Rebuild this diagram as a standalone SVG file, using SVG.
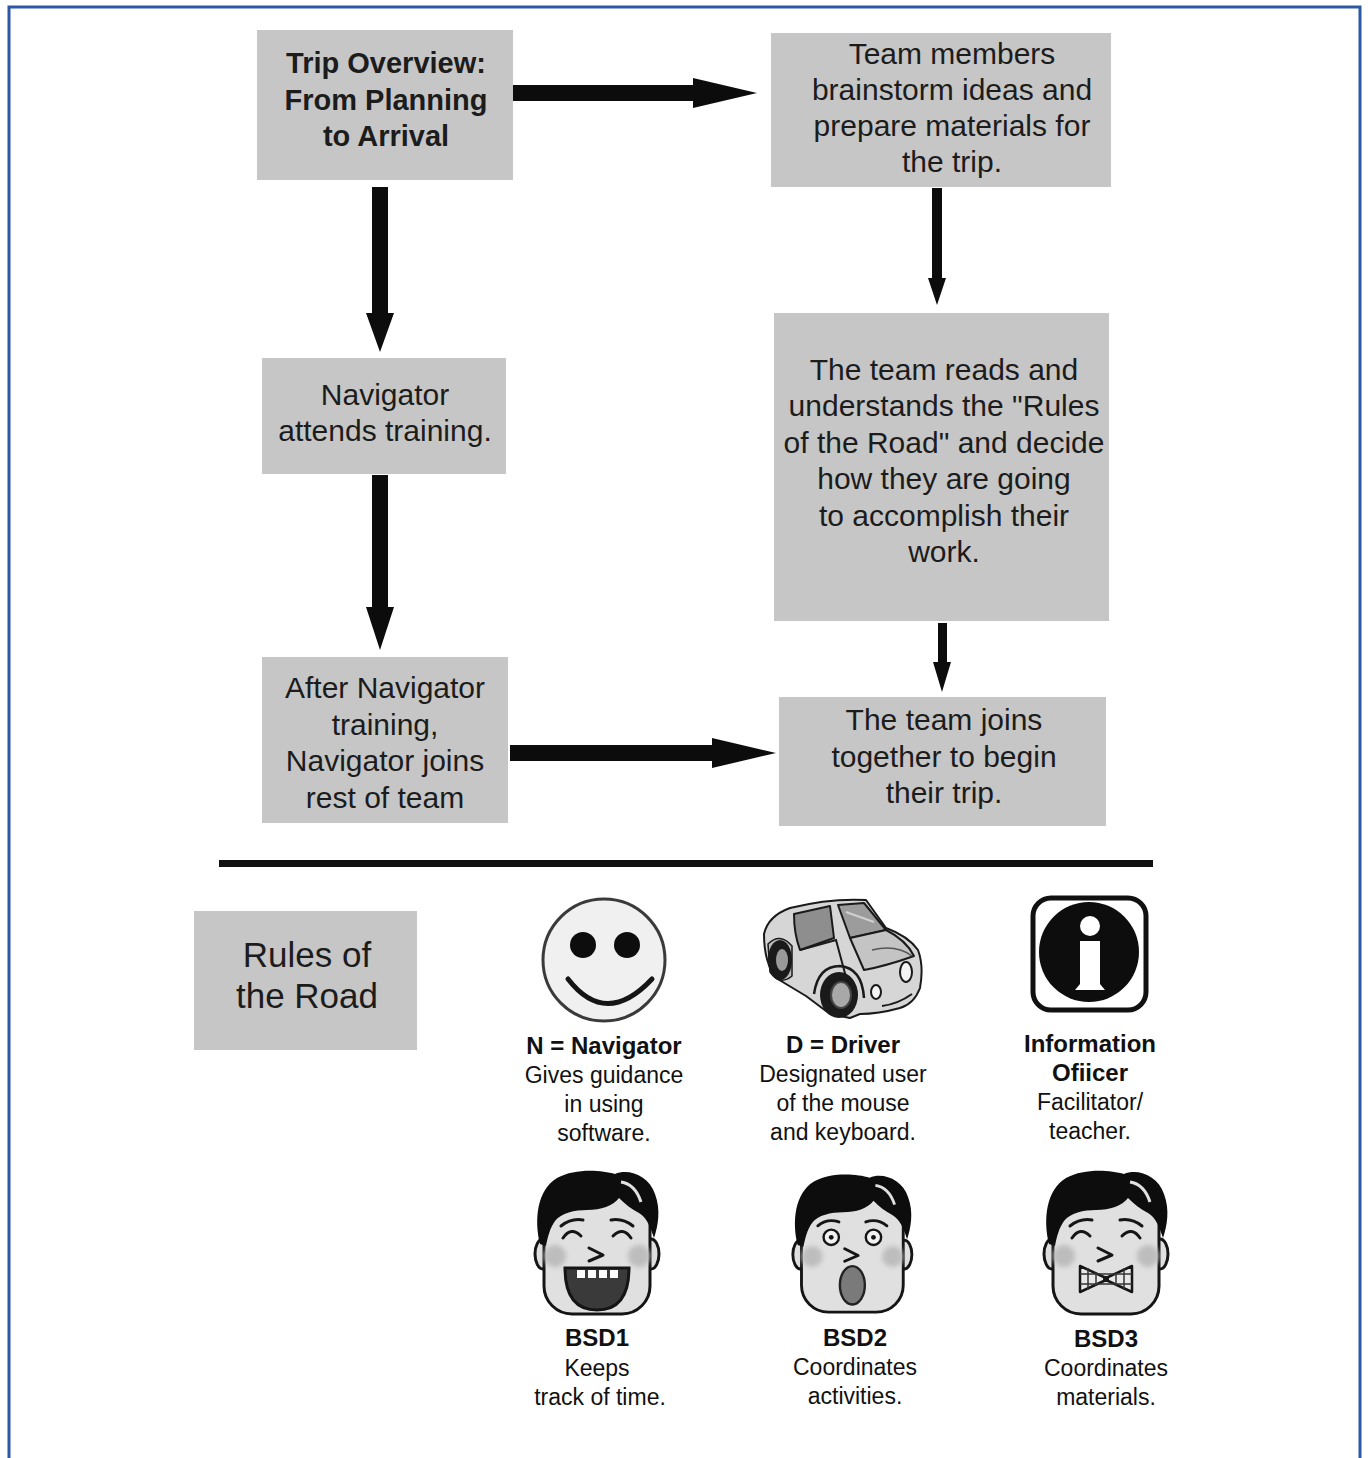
<svg xmlns="http://www.w3.org/2000/svg" xmlns:xlink="http://www.w3.org/1999/xlink" width="1368" height="1458" viewBox="0 0 1368 1458">
  <style>
    .box { fill: #c6c6c6; }
    .t { font-family: "Liberation Sans", Arial, Helvetica, sans-serif; fill: #1c1c1c; text-anchor: middle; }
    .box-t { font-size: 30px; }
    .box-tb { font-size: 29px; font-weight: bold; }
    .rules-t { font-size: 35px; }
    .lbl { font-size: 23px; fill: #111; }
    .lblb { font-size: 24px; font-weight: bold; fill: #111; }
    .arrow { fill: #0c0c0c; }
    .ln { fill: none; stroke: #151515; stroke-width: 3; stroke-linecap: round; stroke-linejoin: round; }
    .car { stroke: #1a1a1a; stroke-width: 2; stroke-linejoin: round; }
  </style>
  <defs>
    <filter id="soft" x="-50%" y="-50%" width="200%" height="200%">
      <feGaussianBlur stdDeviation="2.5"/>
    </filter>
    <!-- shared head used by the three BSD faces -->
    <g id="faceBase">
      <ellipse cx="12" cy="86" rx="8" ry="15" fill="#e0e0e0" stroke="#151515" stroke-width="3"/>
      <ellipse cx="120" cy="86" rx="8" ry="15" fill="#e0e0e0" stroke="#151515" stroke-width="3"/>
      <rect x="13" y="22" width="106" height="124" rx="28" fill="#e0e0e0" stroke="#151515" stroke-width="3"/>
      <path d="M9,76 C3,52 6,22 26,10 C44,0 70,2 84,6 C98,0 118,8 124,26 C130,42 127,58 123,70 C119,58 116,50 108,45 C100,41 94,36 88,30 C82,38 70,42 56,42 C44,42 30,45 24,53 C19,60 17,68 15,78 Z" fill="#0d0d0d"/>
      <path d="M90,14 Q104,16 110,34" fill="none" stroke="#e0e0e0" stroke-width="3"/>
      <circle cx="24" cy="88" r="11" fill="#bdbdbd" filter="url(#soft)"/>
      <circle cx="108" cy="88" r="11" fill="#bdbdbd" filter="url(#soft)"/>
      <path class="ln" d="M58,80 L72,87 L58,93"/>
    </g>
  </defs>

  <rect width="1368" height="1458" fill="#ffffff"/>
  <!-- page frame -->
  <path d="M9,1458 V7 H1360 V1458" fill="none" stroke="#2d58a6" stroke-width="3"/>

  <!-- flow connectors -->
  <g id="connectors">
    <polygon class="arrow" points="513,85 693,85 693,78 757,93 693,108 693,101 513,101"/>
    <polygon class="arrow" points="372,187 388,187 388,313 394,313 380,352 366,313 372,313"/>
    <polygon class="arrow" points="372,475 388,475 388,607 394,607 380,650 366,607 372,607"/>
    <polygon class="arrow" points="510,745 712,745 712,738 776,753 712,768 712,761 510,761"/>
    <polygon class="arrow" points="932,188 942,188 942,278 946,278 937,305 928,278 932,278"/>
    <polygon class="arrow" points="938,623 947,623 947,662 951,662 942,692 933,662 938,662"/>
  </g>

  <g id="trip-overview">
    <rect class="box" x="257" y="30" width="256" height="150"/>
    <text class="t box-tb" x="386" y="73">Trip Overview:</text>
    <text class="t box-tb" x="386" y="110">From Planning</text>
    <text class="t box-tb" x="386" y="146">to Arrival</text>
  </g>

  <g id="brainstorm">
    <rect class="box" x="771" y="33" width="340" height="154"/>
    <text class="t box-t" x="952" y="64">Team members</text>
    <text class="t box-t" x="952" y="100">brainstorm ideas and</text>
    <text class="t box-t" x="952" y="136">prepare materials for</text>
    <text class="t box-t" x="952" y="172">the trip.</text>
  </g>

  <g id="navigator-training">
    <rect class="box" x="262" y="358" width="244" height="116"/>
    <text class="t box-t" x="385" y="405">Navigator</text>
    <text class="t box-t" x="385" y="441">attends training.</text>
  </g>

  <g id="rules-reading">
    <rect class="box" x="774" y="313" width="335" height="308"/>
    <text class="t box-t" x="944" y="380">The team reads and</text>
    <text class="t box-t" x="944" y="416">understands the "Rules</text>
    <text class="t box-t" x="944" y="453">of the Road" and decide</text>
    <text class="t box-t" x="944" y="489">how they are going</text>
    <text class="t box-t" x="944" y="526">to accomplish their</text>
    <text class="t box-t" x="944" y="562">work.</text>
  </g>

  <g id="navigator-joins">
    <rect class="box" x="262" y="657" width="246" height="166"/>
    <text class="t box-t" x="385" y="698">After Navigator</text>
    <text class="t box-t" x="385" y="735">training,</text>
    <text class="t box-t" x="385" y="771">Navigator joins</text>
    <text class="t box-t" x="385" y="808">rest of team</text>
  </g>

  <g id="trip-begins">
    <rect class="box" x="779" y="697" width="327" height="129"/>
    <text class="t box-t" x="944" y="730">The team joins</text>
    <text class="t box-t" x="944" y="767">together to begin</text>
    <text class="t box-t" x="944" y="803">their trip.</text>
  </g>

  <!-- divider -->
  <rect x="219" y="860" width="934" height="7" fill="#111"/>

  <g id="rules-of-the-road">
    <rect class="box" x="194" y="911" width="223" height="139"/>
    <text class="t rules-t" x="307" y="967">Rules of</text>
    <text class="t rules-t" x="307" y="1008">the Road</text>
  </g>

  <!-- Navigator: smiley -->
  <g id="navigator">
    <circle cx="604" cy="960" r="61" fill="#f0f0f0" stroke="#3a3a3a" stroke-width="3"/>
    <circle cx="583" cy="945" r="13" fill="#0d0d0d"/>
    <circle cx="627" cy="945" r="13" fill="#0d0d0d"/>
    <path d="M568,979 Q606,1028 652,979" fill="none" stroke="#151515" stroke-width="5" stroke-linecap="round"/>
    <text class="t lblb" x="604" y="1054">N = Navigator</text>
    <text class="t lbl" x="604" y="1083">Gives guidance</text>
    <text class="t lbl" x="604" y="1112">in using</text>
    <text class="t lbl" x="604" y="1141">software.</text>
  </g>

  <!-- Driver: sports car, three-quarter front view -->
  <g id="driver">
    <!-- body -->
    <path class="car" stroke-width="3" d="M764,934 Q768,916 790,908 Q830,898 866,900 L886,928 Q908,936 918,950 Q924,966 920,988 Q914,1004 900,1008 Q878,1014 860,1014 L850,1018 L830,1014 L806,996 L776,978 Q764,962 764,934 Z" fill="#d6d6d6"/>
    <!-- side windows -->
    <path class="car" d="M794,914 L830,906 L834,938 L800,950 Q794,934 794,914 Z" fill="#8e8e8e"/>
    <!-- windshield -->
    <path class="car" d="M838,905 L864,903 L886,930 L850,938 Z" fill="#9c9c9c"/>
    <path d="M846,912 L874,922" stroke="#d0d0d0" stroke-width="2"/>
    <!-- hood -->
    <path class="car" d="M850,938 L886,930 Q906,940 914,956 Q886,966 864,970 Z" fill="#c4c4c4"/>
    <path d="M872,950 Q896,944 912,956" fill="none" stroke="#555" stroke-width="1.5"/>
    <!-- door line -->
    <path d="M800,950 L836,940 L850,992" fill="none" stroke="#1a1a1a" stroke-width="2"/>
    <!-- rear wheel -->
    <path d="M768,944 Q780,932 792,946 L792,976 Q780,986 770,972 Z" fill="#bbbbbb" stroke="#1a1a1a" stroke-width="1.5"/>
    <ellipse cx="780" cy="960" rx="12" ry="20" fill="#1a1a1a"/>
    <ellipse cx="782" cy="960" rx="6" ry="11" fill="#9a9a9a"/>
    <!-- front wheel with arch -->
    <path d="M814,994 Q818,966 840,966 Q862,968 864,998" fill="none" stroke="#1a1a1a" stroke-width="2.5"/>
    <ellipse cx="839" cy="995" rx="19" ry="23" fill="#1a1a1a"/>
    <ellipse cx="841" cy="995" rx="10" ry="13" fill="#a8a8a8" stroke="#444" stroke-width="2"/>
    <!-- lights and bumper -->
    <ellipse cx="906" cy="972" rx="6" ry="10" fill="#f4f4f4" stroke="#1a1a1a" stroke-width="2"/>
    <ellipse cx="876" cy="992" rx="5" ry="7" fill="#f4f4f4" stroke="#1a1a1a" stroke-width="2"/>
    <path d="M882,1006 Q898,1004 912,994" fill="none" stroke="#1a1a1a" stroke-width="2"/>
    <text class="t lblb" x="843" y="1053">D = Driver</text>
    <text class="t lbl" x="843" y="1082">Designated user</text>
    <text class="t lbl" x="843" y="1111">of the mouse</text>
    <text class="t lbl" x="843" y="1140">and keyboard.</text>
  </g>

  <!-- Information Officer: info sign -->
  <g id="information-officer">
    <rect x="1033" y="898" width="113" height="112" rx="18" fill="#ffffff" stroke="#111" stroke-width="5"/>
    <circle cx="1089" cy="952" r="50" fill="#0d0d0d"/>
    <circle cx="1090" cy="926" r="10" fill="#ffffff"/>
    <path d="M1080,941 L1100,941 L1100,984 L1105,990 L1075,990 L1080,984 Z" fill="#ffffff"/>
    <text class="t lblb" x="1090" y="1052">Information</text>
    <text class="t lblb" x="1090" y="1081">Ofiicer</text>
    <text class="t lbl" x="1090" y="1110">Facilitator/</text>
    <text class="t lbl" x="1090" y="1139">teacher.</text>
  </g>

  <!-- BSD1: laughing face -->
  <g id="bsd1">
    <g transform="translate(531,1168)">
      <use xlink:href="#faceBase"/>
      <path class="ln" d="M30,58 Q40,50 52,52"/>
      <path class="ln" d="M80,52 Q92,50 102,58"/>
      <path class="ln" d="M32,70 Q40,58 50,68"/>
      <path class="ln" d="M82,68 Q92,58 100,70"/>
      <path d="M34,100 L98,100 Q98,142 66,142 Q34,142 34,100 Z" fill="#3a3a3a" stroke="#151515" stroke-width="3"/>
      <rect x="46" y="102" width="8" height="8" fill="#fff"/>
      <rect x="57" y="102" width="8" height="8" fill="#fff"/>
      <rect x="68" y="102" width="8" height="8" fill="#fff"/>
      <rect x="79" y="102" width="8" height="8" fill="#fff"/>
    </g>
    <text class="t lblb" x="597" y="1346">BSD1</text>
    <text class="t lbl" x="597" y="1376">Keeps</text>
    <text class="t lbl" x="600" y="1405">track of time.</text>
  </g>

  <!-- BSD2: surprised face -->
  <g id="bsd2">
    <g transform="translate(789,1172) scale(0.96)">
      <use xlink:href="#faceBase"/>
      <path class="ln" d="M30,56 Q40,48 52,52"/>
      <path class="ln" d="M80,52 Q92,48 102,56"/>
      <circle cx="44" cy="68" r="8" fill="#f2f2f2" stroke="#151515" stroke-width="2.5"/>
      <circle cx="44" cy="68" r="2.5" fill="#151515"/>
      <circle cx="88" cy="68" r="8" fill="#f2f2f2" stroke="#151515" stroke-width="2.5"/>
      <circle cx="88" cy="68" r="2.5" fill="#151515"/>
      <ellipse cx="66" cy="118" rx="13" ry="20" fill="#7a7a7a" stroke="#222" stroke-width="2.5"/>
    </g>
    <text class="t lblb" x="855" y="1346">BSD2</text>
    <text class="t lbl" x="855" y="1375">Coordinates</text>
    <text class="t lbl" x="855" y="1404">activities.</text>
  </g>

  <!-- BSD3: face with bow tie -->
  <g id="bsd3">
    <g transform="translate(1040,1168)">
      <use xlink:href="#faceBase"/>
      <path class="ln" d="M30,58 Q40,50 52,52"/>
      <path class="ln" d="M80,52 Q92,50 102,58"/>
      <path class="ln" d="M32,70 Q40,58 50,68"/>
      <path class="ln" d="M82,68 Q92,58 100,70"/>
      <path d="M40,98 L66,110 L92,98 L92,124 L66,112 L40,124 Z" fill="#e8e8e8" stroke="#151515" stroke-width="2.5" stroke-linejoin="round"/>
      <path d="M48,100 V122 M56,104 V118 M76,104 V118 M84,100 V122 M40,106 H92 M40,116 H92" fill="none" stroke="#333" stroke-width="1.5"/>
      <circle cx="66" cy="111" r="3" fill="#151515"/>
    </g>
    <text class="t lblb" x="1106" y="1347">BSD3</text>
    <text class="t lbl" x="1106" y="1376">Coordinates</text>
    <text class="t lbl" x="1106" y="1405">materials.</text>
  </g>
</svg>
